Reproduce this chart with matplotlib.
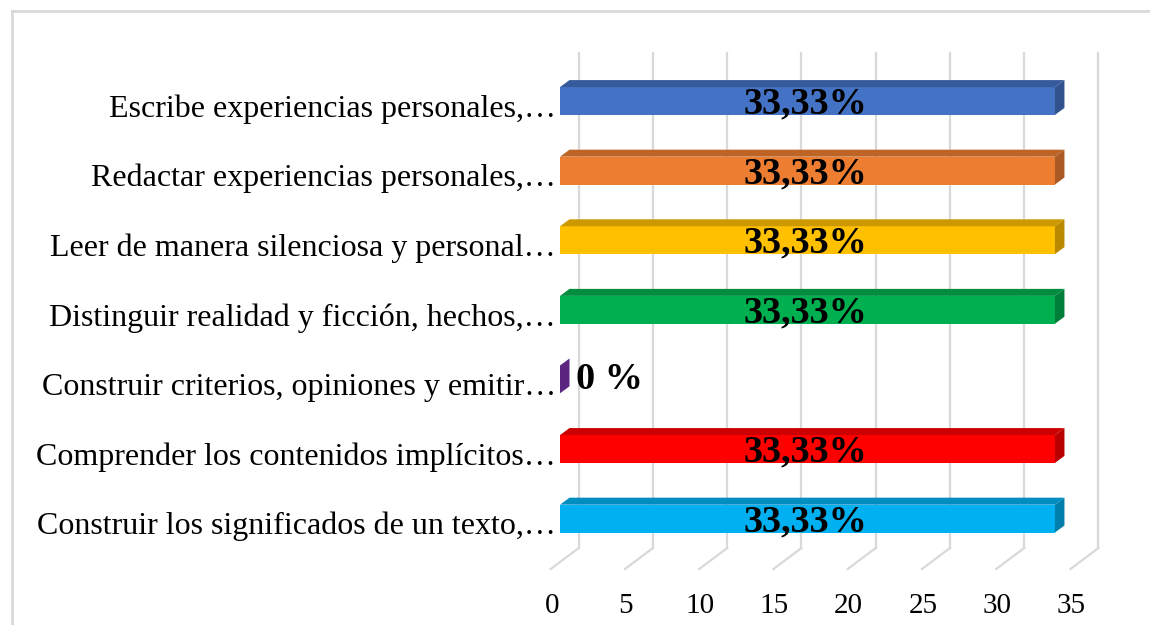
import numpy as np
import matplotlib
matplotlib.use('Agg')
import matplotlib.pyplot as plt
from matplotlib.patches import Polygon
from matplotlib.lines import Line2D

# data (top to bottom as in the chart)
categories = [
    'Escribe experiencias personales,…',
    'Redactar experiencias personales,…',
    'Leer de manera silenciosa y personal…',
    'Distinguir realidad y ficción, hechos,…',
    'Construir criterios, opiniones y emitir…',
    'Comprender los contenidos implícitos…',
    'Construir los significados de un texto,…',
]
values = [33.33, 33.33, 33.33, 33.33, 0, 33.33, 33.33]
value_labels = ['33,33%', '33,33%', '33,33%', '33,33%', '0 %', '33,33%', '33,33%']
colors = ['#4472C4', '#ED7D31', '#FFC000', '#00B050', '#7030A0', '#FF0000', '#00B0F0']
ticks = [0, 5, 10, 15, 20, 25, 30, 35]

W, H = 1150, 625
fig = plt.figure(figsize=(W / 100, H / 100), dpi=100)

# axes = plane of the bar front faces (pixels)
px_per_unit = 14.85
row_px = 69.6
x0_px, top_px, bot_px = 560, 67, 562
first_center = 101
ax = fig.add_axes([x0_px / W, 1 - bot_px / H, 35 * px_per_unit / W, (bot_px - top_px) / H])
ax.set_xlim(0, 35)
ax.set_ylim((bot_px - first_center) / row_px, (top_px - first_center) / row_px)
ax.axis('off')

ux = 1 / px_per_unit   # data per pixel, x
uy = 1 / row_px        # data per pixel, y
y_top, y_bot = ax.get_ylim()[1], ax.get_ylim()[0]

# depth offsets (pixels): floor front, bar back, back wall
fx, fy = -9.3 * ux, 7 * uy
bx, by = 9.5 * ux, -7 * uy
wx, wy = 18.7 * ux, -14 * uy

grid_c = '#D9D9D9'
for t in ticks:
    # back wall vertical gridline
    ax.add_line(Line2D([t + wx, t + wx], [y_top + wy, y_bot + wy], color=grid_c, lw=1.6, clip_on=False))
    # floor diagonal
    ax.add_line(Line2D([t + fx, t + wx], [y_bot + fy, y_bot + wy], color=grid_c, lw=1.6, clip_on=False))
    ax.text(t + fx + 1 * ux, y_bot + fy + 37 * uy, str(t), ha='center', va='center',
            fontsize=21, family='Liberation Serif', color='black')


def shade(c, f):
    r, g, b = matplotlib.colors.to_rgb(c)
    return (r * f, g * f, b * f)


h = 0.4
for i, (v, c) in enumerate(zip(values, colors)):
    y0, y1 = i - h / 2, i + h / 2
    if v > 0:
        ax.barh(i, v, height=h, left=0, color=c, edgecolor='none', zorder=3)
        top = [(0, y0), (v, y0), (v + bx, y0 + by), (bx, y0 + by)]
        ax.add_patch(Polygon(top, closed=True, facecolor=shade(c, 0.8), edgecolor='none', zorder=3))
    side = [(v, y0), (v, y1), (v + bx, y1 + by), (v + bx, y0 + by)]
    ax.add_patch(Polygon(side, closed=True, facecolor=shade(c, 0.72 if v > 0 else 0.8),
                         edgecolor='none', zorder=3, clip_on=False))

# data labels
for i, (v, lab) in enumerate(zip(values, value_labels)):
    if v > 0:
        ax.text(v / 2 - 2 * ux, i + 3 * uy, lab, ha='center', va='center', fontsize=27.5,
                fontweight='bold', family='Liberation Serif', color='black', zorder=5)
    else:
        ax.text(v + bx + 7 * ux, i, lab, ha='left', va='center', fontsize=27.5,
                fontweight='bold', family='Liberation Serif', color='black', zorder=5)

# category labels
for i, cat in enumerate(categories):
    ax.annotate(cat, xy=(0, i), xytext=(-4, -8), textcoords='offset pixels',
                ha='right', va='center', fontsize=23, family='Liberation Serif',
                color='black', annotation_clip=False)

# chart area border (left and top edges visible)
fig.add_artist(Line2D([12 / W, 12 / W], [0, 1 - 11 / H], color=grid_c, lw=2, transform=fig.transFigure))
fig.add_artist(Line2D([12 / W, 1], [1 - 11 / H, 1 - 11 / H], color=grid_c, lw=2, transform=fig.transFigure))

fig.savefig('out.png', dpi=100)
